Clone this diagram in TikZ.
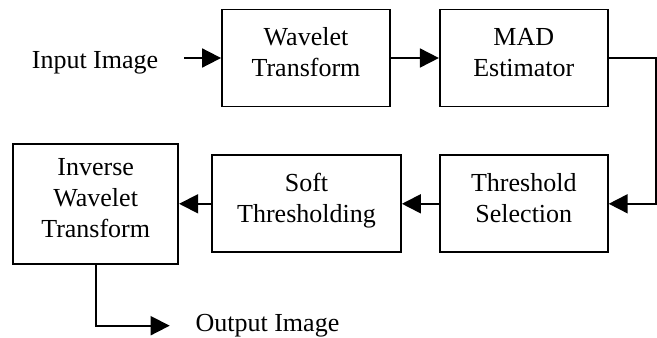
\documentclass[tikz,border=0pt]{standalone}
\usepackage{fontspec}
\setmainfont{Liberation Serif}
\usetikzlibrary{positioning,arrows.meta}

\begin{document}
\begin{tikzpicture}[>={Triangle[length=9.5pt,width=9.5pt]},line width=0.9pt,
    box/.style={draw,align=center,font=\fontsize{13}{15.5}\selectfont,inner sep=2pt,text depth=6pt,minimum width=84pt,minimum height=48.5pt},
    lbl/.style={font=\fontsize{13}{15.5}\selectfont,inner sep=0pt}]
    \useasboundingbox (0,0) rectangle (328.5pt,-168.5pt);
    % top row
    \node[box] (wt) at (153pt,-29pt) {Wavelet\\Transform};
    \node[box,right=24pt of wt] (mad) {MAD\\Estimator};
    \node[lbl,left=31pt of wt,anchor=base east,yshift=-5pt] (in) {Input Image};
    % bottom row, right to left
    \node[box,below=23.5pt of mad] (thr) {Threshold\\Selection};
    \node[box,minimum width=94.5pt,left=18.5pt of thr] (soft) {Soft\\Thresholding};
    \node[box,minimum width=82.5pt,minimum height=60pt,left=16pt of soft] (inv) {Inverse\\Wavelet\\Transform};
    \coordinate[below=30.5pt of inv.south] (bend);
    \node[lbl,right=49.5pt of bend,anchor=base west,yshift=-3pt] (out) {Output Image};
    \draw[->,shorten <=12.5pt] (in.east|-wt.west)--(wt); \draw[->] (wt)--(mad);
    \draw[->] (mad.east)-- ++(23.5pt,0)|-(thr);
    \draw[->] (thr)--(soft); \draw[->] (soft)--(inv);
    \draw[->,shorten >=12.5pt] (inv)--(bend)--(out.west|-bend);
  \end{tikzpicture}
\end{document}
